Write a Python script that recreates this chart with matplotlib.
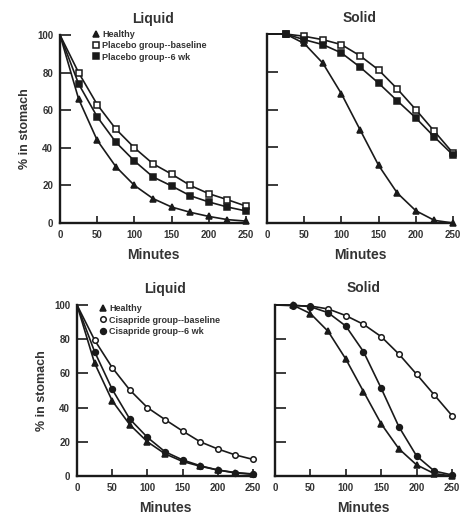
import matplotlib
matplotlib.use('Agg')
import matplotlib.pyplot as plt

plt.rcParams['font.family'] = ['Liberation Sans', 'DejaVu Sans']
plt.rcParams['font.weight'] = 'bold'
plt.rcParams['axes.titleweight'] = 'bold'
plt.rcParams['axes.labelweight'] = 'bold'

minutes = [0, 25, 50, 75, 100, 125, 150, 175, 200, 225, 250]

# 상단: 위약군
liq_healthy = [100, 66, 44, 30, 20, 13, 8.5, 5.7, 3.5, 1.8, 1]
liq_plac_base = [100, 80, 63, 50, 40, 31.5, 26, 20, 15.6, 12.4, 9]
liq_plac_6wk = [100, 74, 56.5, 43, 33, 24.5, 19.7, 14.5, 11.2, 8.5, 6.4]
sol_healthy = [100, 100, 95, 84.6, 68.4, 49.4, 30.5, 15.9, 6.5, 1.4, 0]
sol_plac_base = [100, 100, 98.8, 97, 94.4, 88.5, 81, 71, 60, 48.5, 37]
sol_plac_6wk = [100, 100, 97, 94.4, 90, 82.5, 74, 64.7, 55.6, 45.5, 36]

# 하단: 시사프라이드군
liq_cis_base = [100, 79.5, 63.4, 50.3, 40, 33, 26.3, 20, 15.8, 12.3, 9.7]
liq_cis_6wk = [100, 72.7, 50.7, 33.3, 22.6, 14.2, 9.4, 6, 3.5, 2, 1.2]
sol_cis_base = [100, 99.6, 99.4, 97.7, 93.8, 88.7, 81.5, 71.3, 59.5, 47.4, 35.3]
sol_cis_6wk = [100, 100, 99, 95.5, 87.7, 72.7, 51.3, 28.8, 11.7, 2.9, 0.6]

xticks = [0, 50, 100, 150, 200, 250]
yticks = [0, 20, 40, 60, 80, 100]

W, H = 464, 514
fig = plt.figure(figsize=(W / 100, H / 100), dpi=100)


def px_axes(l, t, r, b):
    return fig.add_axes([l / W, 1 - b / H, (r - l) / W, (b - t) / H])


axs = {
    'tl': px_axes(60, 35, 246, 223),
    'tr': px_axes(267, 34, 453, 223),
    'bl': px_axes(77, 305, 253, 476),
    'br': px_axes(275, 305, 452, 476),
}

K = '#1a1a1a'
T = '#333333'


def series(ax, y, marker, face, ms, label=None):
    ax.plot(minutes, y, color=K, lw=1.2, marker=marker, ms=ms, mfc=face, mec=K, mew=1.1,
            markevery=list(range(1, len(minutes))), clip_on=False, label=label)


def style(ax, title, ylab):
    ax.set_xlim(0, 250); ax.set_ylim(0, 100)
    for s in ('top', 'right'):
        ax.spines[s].set_visible(False)
    for s in ('left', 'bottom'):
        ax.spines[s].set_linewidth(1.7); ax.spines[s].set_color(K)
    ax.set_xticks(xticks); ax.set_yticks(yticks)
    ax.tick_params(axis='y', direction='in', length=8, width=1.2, color=K, labelsize=7, pad=5, labelcolor=T)
    ax.tick_params(axis='x', direction='in', length=5, width=1.2, color=K, labelsize=7, pad=5, labelcolor=T)
    if not ylab:
        ax.set_yticklabels([])
    else:
        ax.set_ylabel('% in stomach', fontsize=9, labelpad=4, color=T)
    ax.set_title(title, fontsize=10, pad=9, color=T)
    ax.set_xlabel('Minutes', fontsize=10, labelpad=6, color=T)


ax = axs['tl']
series(ax, liq_healthy, '^', K, 4.2, 'Healthy')
series(ax, liq_plac_base, 's', 'white', 5, 'Placebo group--baseline')
series(ax, liq_plac_6wk, 's', K, 5, 'Placebo group--6 wk')
style(ax, 'Liquid', True)
ax.legend(loc='upper left', bbox_to_anchor=(0.17, 1.05), frameon=False, fontsize=6.5,
          handlelength=0, handletextpad=0.7, borderpad=0, labelspacing=0.25, labelcolor=T)

ax = axs['tr']
series(ax, sol_healthy, '^', K, 4.2)
series(ax, sol_plac_base, 's', 'white', 5)
series(ax, sol_plac_6wk, 's', K, 5)
style(ax, 'Solid', False)

ax = axs['bl']
series(ax, liq_healthy, '^', K, 4.0, 'Healthy')
series(ax, liq_cis_base, 'o', 'white', 4.0, 'Cisapride group--baseline')
series(ax, liq_cis_6wk, 'o', K, 4.2, 'Cisapride group--6 wk')
style(ax, 'Liquid', True)
ax.legend(loc='upper left', bbox_to_anchor=(0.12, 1.03), frameon=False, fontsize=6.5,
          handlelength=0, handletextpad=0.7, borderpad=0, labelspacing=0.25, labelcolor=T)

ax = axs['br']
series(ax, sol_healthy, '^', K, 4.0)
series(ax, sol_cis_base, 'o', 'white', 4.0)
series(ax, sol_cis_6wk, 'o', K, 4.2)
style(ax, 'Solid', False)

fig.savefig('out.png', dpi=100)
